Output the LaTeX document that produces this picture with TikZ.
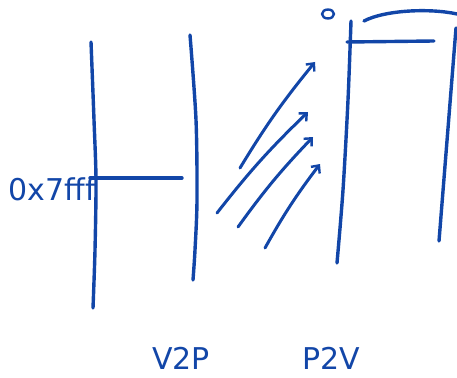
\documentclass[tikz,border=0pt]{standalone}
\usepackage{fontspec}
\setmainfont{DejaVu Sans}
\usetikzlibrary{arrows.meta}
\definecolor{penblue}{RGB}{18,70,168}
\tikzset{
  pen/.style={draw=penblue, line width=3.4pt, line cap=round, line join=round},
  penarrow/.style={pen, line width=3pt, -{Straight Barb[length=6pt,width=11pt,line width=2.4pt]}},
  penlabel/.style={text=penblue, font=\fontsize{30}{32}\selectfont, inner sep=0pt}
}
\begin{document}
\begin{tikzpicture}[x=1pt, y=-1pt]
\useasboundingbox (0,0) rectangle (457,377);
% virtual side
\draw [pen] plot [smooth] coordinates {(91,42) (94,120) (96,180) (95,250) (93,308)};
\draw [pen] plot [smooth] coordinates {(190,35) (196,120) (197,200) (195,250) (193,280)};
\coordinate (vmark) at (90,178);
\coordinate (vmarkend) at (182,178);
\draw [pen] (vmark) -- (vmarkend);
\node [penlabel, anchor=base east] (hexaddr) at (96,200) {0x7fff};
% mapping arrows
\coordinate (a1) at (240,168);
\coordinate (b1) at (315,62);
\coordinate (a2) at (217,213);
\coordinate (b2) at (308,112);
\coordinate (a3) at (238,227);
\coordinate (b3) at (313,137);
\coordinate (a4) at (265,248);
\coordinate (b4) at (320,164);
\foreach \i in {1,...,4}
  \draw [penarrow] (a\i) to [bend left=4] (b\i);
% physical side
\draw [pen] plot [smooth] coordinates {(351,21) (348,100) (343,190) (337,263)};
\draw [pen] (347,42) -- (434,41);
\draw [pen] (364,21) .. controls (385,10) and (430,8) .. (457,14);
\draw [pen] (456,28) -- (439,241);
\draw [pen, line width=2.4pt] (328,14) ellipse [x radius=6, y radius=4.5];
% labels
\node [penlabel] (vtop) at (181,358) {V2P};
\node [penlabel] (ptov) at (331,358) {P2V};
\end{tikzpicture}
\end{document}
